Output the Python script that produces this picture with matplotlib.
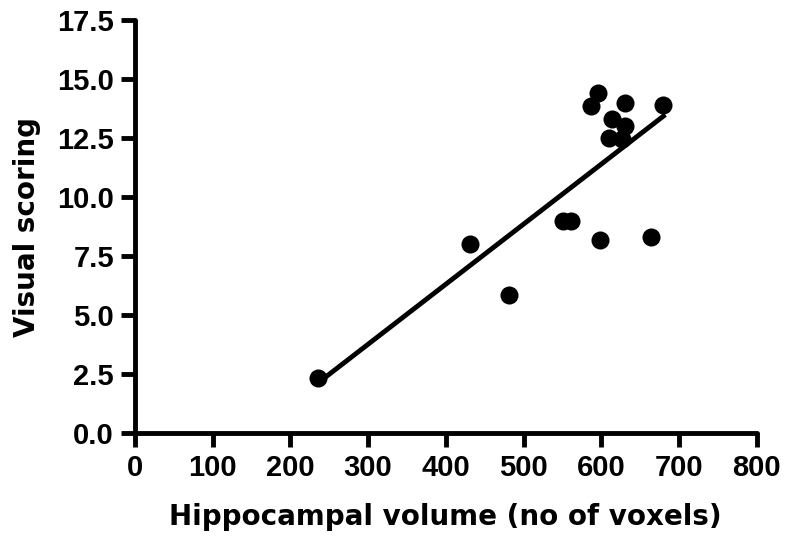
import numpy as np
import matplotlib
matplotlib.use("Agg")
from matplotlib import pyplot as plt

# data
volume = [236, 431, 481, 551, 561, 598, 664, 587, 596, 630, 680, 614, 630, 610, 627]
score = [2.33, 8.0, 5.85, 9.0, 9.0, 8.2, 8.3, 13.85, 14.4, 14.0, 13.9, 13.3, 13.0, 12.5, 12.45]
x_ticks = [0, 100, 200, 300, 400, 500, 600, 700, 800]
y_ticks = [0.0, 2.5, 5.0, 7.5, 10.0, 12.5, 15.0, 17.5]

plt.rcParams['font.family'] = ['Liberation Sans', 'DejaVu Sans']
plt.rcParams['font.weight'] = 'bold'

fig = plt.figure(figsize=(7.89, 5.42), dpi=100)
ax = fig.add_axes([0.171, 0.201, 0.788, 0.762])

ax.scatter(volume, score, s=13**2, color='black', zorder=3, linewidths=0)

# linear regression line over the data range
slope, intercept = np.polyfit(volume, score, 1)
xs = np.array([min(volume), max(volume)])
ax.plot(xs, slope * xs + intercept, color='black', lw=3.5, zorder=2)

ax.set_xlim(0, 800)
ax.set_ylim(0, 17.5)
ax.set_xticks(x_ticks)
ax.set_yticks(y_ticks)
ax.set_xticklabels([str(t) for t in x_ticks])
ax.set_yticklabels(['%.1f' % t for t in y_ticks])

for side in ['top', 'right']:
    ax.spines[side].set_visible(False)
for side in ['left', 'bottom']:
    ax.spines[side].set_linewidth(3.5)
    ax.spines[side].set_capstyle('round')
ax.tick_params(width=3.5, length=10, labelsize=21, pad=5)

lab_font = dict(family='DejaVu Sans', fontsize=20, fontweight='bold')
ax.set_xlabel('Hippocampal volume (no of voxels)', labelpad=15, **lab_font)
ax.set_ylabel('Visual scoring', labelpad=12, **lab_font)

fig.savefig('out.png', dpi=100)
